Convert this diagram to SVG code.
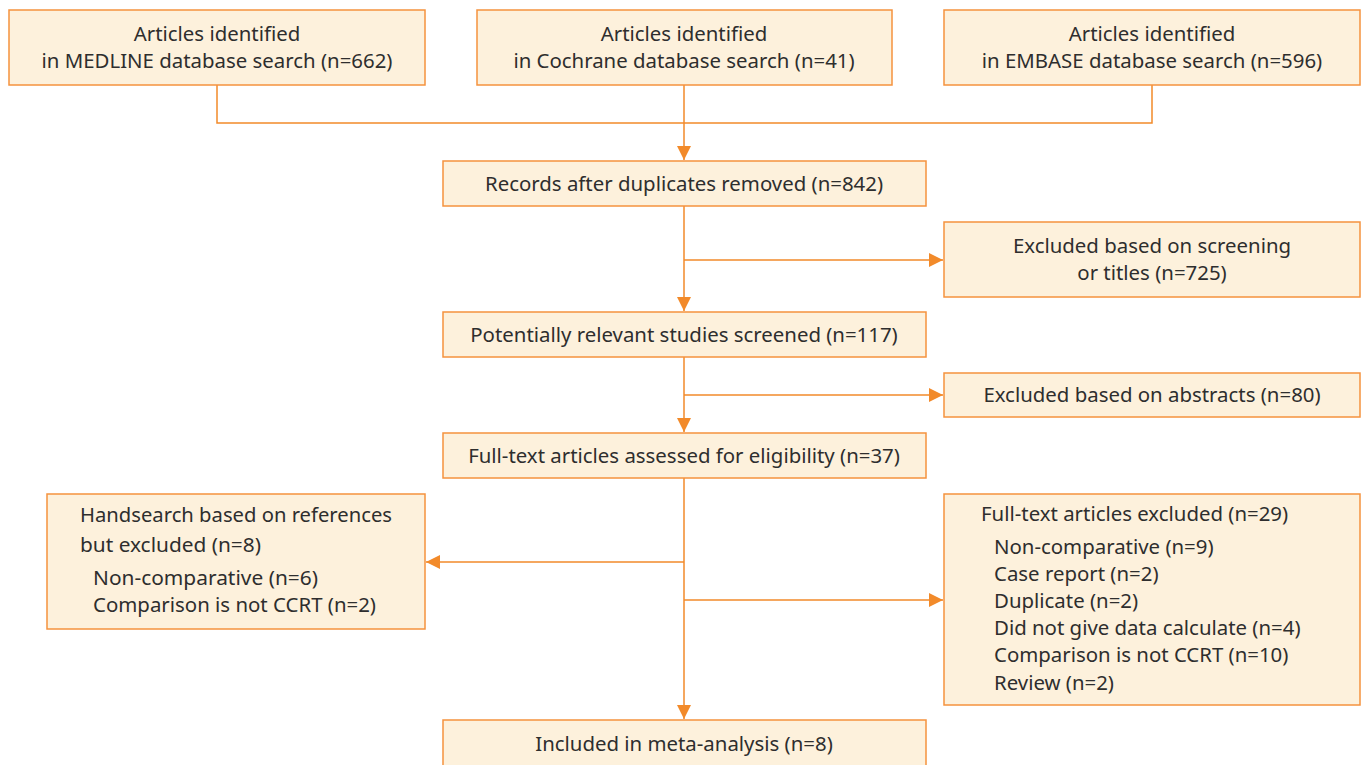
<svg xmlns="http://www.w3.org/2000/svg" width="1363" height="765" viewBox="0 0 1363 765">
<defs>
<style>
.box{fill:#fdf1dc;stroke:#f5923e;stroke-width:1.5}
.t{font-family:"Noto Sans","Open Sans",sans-serif;font-size:20.4px;fill:#2e2e2e}
.c{text-anchor:middle}
.ln{fill:none;stroke:#f28a2a;stroke-width:1.5}
</style>
<marker id="ah" viewBox="0 0 10 10" refX="10" refY="5" markerWidth="14" markerHeight="14" markerUnits="userSpaceOnUse" orient="auto">
<path d="M0,0 L10,5 L0,10 Z" fill="#f28a2a"/>
</marker>
</defs>
<rect width="1363" height="765" fill="#fff"/>
<g id="connectors">
<path class="ln" d="M217,85 V123 H1152 V85"/>
<path class="ln" d="M684,85 V160" marker-end="url(#ah)"/>
<path class="ln" d="M684,206 V311" marker-end="url(#ah)"/>
<path class="ln" d="M684,260 H943" marker-end="url(#ah)"/>
<path class="ln" d="M684,357 V432" marker-end="url(#ah)"/>
<path class="ln" d="M684,395 H943" marker-end="url(#ah)"/>
<path class="ln" d="M684,478 V719" marker-end="url(#ah)"/>
<path class="ln" d="M684,562 H426" marker-end="url(#ah)"/>
<path class="ln" d="M684,600 H943" marker-end="url(#ah)"/>
</g>
<g id="medline">
<rect class="box" x="9" y="10" width="416" height="75"/>
<text class="t c" x="217" y="41">Articles identified</text>
<text class="t c" x="217" y="68">in MEDLINE database search (n=662)</text>
</g>
<g id="cochrane">
<rect class="box" x="477" y="10" width="415" height="75"/>
<text class="t c" x="684" y="41">Articles identified</text>
<text class="t c" x="684" y="68">in Cochrane database search (n=41)</text>
</g>
<g id="embase">
<rect class="box" x="944" y="10" width="416" height="75"/>
<text class="t c" x="1152" y="41">Articles identified</text>
<text class="t c" x="1152" y="68">in EMBASE database search (n=596)</text>
</g>
<g id="records">
<rect class="box" x="443" y="161" width="483" height="45"/>
<text class="t c" x="684" y="191">Records after duplicates removed (n=842)</text>
</g>
<g id="excl-screening">
<rect class="box" x="944" y="222" width="416" height="75"/>
<text class="t c" x="1152" y="253">Excluded based on screening</text>
<text class="t c" x="1152" y="280">or titles (n=725)</text>
</g>
<g id="potential">
<rect class="box" x="443" y="312" width="483" height="45"/>
<text class="t c" x="684" y="342">Potentially relevant studies screened (n=117)</text>
</g>
<g id="excl-abstracts">
<rect class="box" x="944" y="373" width="416" height="44"/>
<text class="t c" x="1152" y="402">Excluded based on abstracts (n=80)</text>
</g>
<g id="fulltext">
<rect class="box" x="443" y="433" width="483" height="45"/>
<text class="t c" x="684" y="463">Full-text articles assessed for eligibility (n=37)</text>
</g>
<g id="handsearch">
<rect class="box" x="47" y="494" width="378" height="135"/>
<text class="t" x="80" y="522" textLength="312" lengthAdjust="spacingAndGlyphs">Handsearch based on references</text>
<text class="t" x="80" y="552" textLength="181" lengthAdjust="spacingAndGlyphs">but excluded (n=8)</text>
<text class="t" x="93" y="585" textLength="225" lengthAdjust="spacingAndGlyphs">Non-comparative (n=6)</text>
<text class="t" x="93" y="612" textLength="283" lengthAdjust="spacingAndGlyphs">Comparison is not CCRT (n=2)</text>
</g>
<g id="fulltext-excluded">
<rect class="box" x="944" y="494" width="416" height="211"/>
<text class="t" x="981" y="521">Full-text articles excluded (n=29)</text>
<text class="t" x="994" y="554">Non-comparative (n=9)</text>
<text class="t" x="994" y="581">Case report (n=2)</text>
<text class="t" x="994" y="608">Duplicate (n=2)</text>
<text class="t" x="994" y="635">Did not give data calculate (n=4)</text>
<text class="t" x="994" y="662">Comparison is not CCRT (n=10)</text>
<text class="t" x="994" y="690">Review (n=2)</text>
</g>
<g id="included">
<rect class="box" x="443" y="720" width="483" height="60"/>
<text class="t c" x="684" y="751">Included in meta-analysis (n=8)</text>
</g>
</svg>
